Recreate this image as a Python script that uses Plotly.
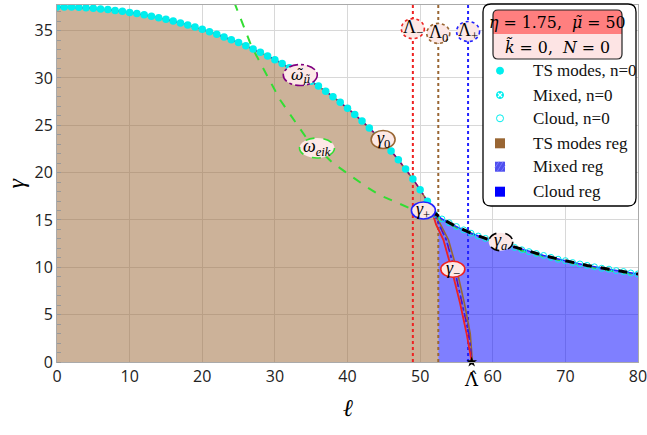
import numpy as np
import plotly.graph_objects as go

# ---------------------------------------------------------------- data
# TS-mode solutions (n = 0), one per integer ell
ell_ts = list(range(0, 52))
gamma_ts = [37.50, 37.49, 37.48, 37.45, 37.41, 37.36, 37.29, 37.22, 37.13, 37.03,
            36.92, 36.80, 36.66, 36.52, 36.36, 36.19, 36.00, 35.81, 35.59, 35.37,
            35.13, 34.88, 34.61, 34.33, 34.04, 33.73, 33.40, 33.06, 32.70, 32.32,
            31.93, 31.51, 31.08, 30.63, 30.15, 29.66, 29.14, 28.59, 28.02, 27.43,
            26.80, 26.14, 25.45, 24.72, 23.95, 23.14, 22.28, 21.36, 20.38, 19.33,
            18.20, 16.97]

# branch point gamma_+
ell_plus, gamma_plus = 51.6, 16.0

# cloud solutions (n = 0), one per integer ell
ell_cloud = list(range(52, 81))
gamma_cloud = [15.60, 15.10, 14.70, 14.30, 13.95, 13.60, 13.30, 13.05, 12.80, 12.60,
               12.35, 12.10, 11.85, 11.65, 11.45, 11.25, 11.05, 10.85, 10.70, 10.50,
               10.35, 10.20, 10.05, 9.90, 9.80, 9.65, 9.55, 9.40, 9.30]

# gamma_a branch
ell_a = [51.6, 53, 55, 57, 59, 61, 63, 65, 67, 70, 73, 76, 80]
gamma_a = [16.0, 15.1, 14.3, 13.6, 13.05, 12.6, 12.1, 11.65, 11.25, 10.7, 10.2, 9.8, 9.3]

# gamma_- branch and the neighbouring lower branches
gamma_low = [16.0, 14.5, 12.9, 9.9, 6.2, 3.0, 0.0]
ell_minus = [51.6, 52.2, 53.2, 54.3, 55.5, 56.4, 57.1]
ell_mid = [51.7, 52.6, 53.6, 54.7, 55.8, 56.7, 57.15]
ell_zero = [51.8, 52.8, 53.9, 55.0, 56.1, 56.9, 57.2]

# eikonal approximation
ell_eik = [24.4, 26.8, 30.7, 34.4, 38.0, 42.6, 44.5, 46.8, 49.0, 51.5,
           55, 60, 65, 70, 75, 80]
gamma_eik = [38.0, 33.3, 27.7, 23.6, 21.0, 18.5, 17.6, 16.8, 16.1, 15.6,
             14.2, 12.7, 11.55, 10.6, 9.8, 9.2]

# characteristic ell values
Lambda_minus, Lambda_0, Lambda_plus, Lambda_hat = 49.0, 52.5, 56.6, 57.1

x_ticks = [0, 10, 20, 30, 40, 50, 60, 70, 80]
y_ticks = [0, 5, 10, 15, 20, 25, 30, 35]
x_max, y_max = 80, 37.7

# ---------------------------------------------------------------- styles
BROWN = "#996633"
PURPLE = "#800080"
CYAN = "#00eeee"
RED = "#ee2222"
BLUE = "#2222ff"
GREEN = "#33dd33"
LABEL_FILL = "#fce8e6"
SERIF = "Liberation Serif"
SERIF_MARKS = "DejaVu Serif"

# plot area in pixels (for paper-coordinate helpers)
L, R, T, B = 57, 638, 5, 362


def pp(px, py):
    return (px - L) / (R - L), (B - py) / (B - T)


def rounded_path(x0, y0, x1, y1, r, top=True, bottom=True):
    """Rounded rectangle path in paper coordinates from pixel corners."""
    def P(px, py):
        a, b = pp(px, py)
        return f"{a:.5f},{b:.5f}"
    rt = r if top else 0
    rb = r if bottom else 0
    d = f"M {P(x0 + rt, y0)} L {P(x1 - rt, y0)} "
    d += f"Q {P(x1, y0)} {P(x1, y0 + rt)} " if rt else ""
    d += f"L {P(x1, y1 - rb)} "
    d += f"Q {P(x1, y1)} {P(x1 - rb, y1)} " if rb else ""
    d += f"L {P(x0 + rb, y1)} "
    d += f"Q {P(x0, y1)} {P(x0, y1 - rb)} " if rb else ""
    d += f"L {P(x0, y0 + rt)} "
    d += f"Q {P(x0, y0)} {P(x0 + rt, y0)} " if rt else ""
    return d + "Z"


fig = go.Figure()

# ---------------------------------------------------------------- regions
g_at_L0 = float(np.interp(Lambda_0, ell_a, gamma_a))
ts_x = [0] + ell_ts + [ell_plus] + [e for e in ell_a if ell_plus < e < Lambda_0] + [Lambda_0, Lambda_0, 0]
ts_y = [0] + gamma_ts + [gamma_plus] + [g for e, g in zip(ell_a, gamma_a) if ell_plus < e < Lambda_0] + [g_at_L0, 0, 0]
fig.add_trace(go.Scatter(x=ts_x, y=ts_y, fill="toself", mode="none",
                         fillcolor="rgba(153,102,51,0.5)", hoverinfo="skip"))

cl_x = [Lambda_0, Lambda_0] + [e for e in ell_a if e > Lambda_0] + [x_max]
cl_y = [0, g_at_L0] + [g for e, g in zip(ell_a, gamma_a) if e > Lambda_0] + [0]
fig.add_trace(go.Scatter(x=cl_x, y=cl_y, fill="toself", mode="none",
                         fillcolor="rgba(0,0,255,0.5)", hoverinfo="skip"))

mx_x = ell_minus + ell_zero[::-1]
mx_y = gamma_low + gamma_low[::-1]
fig.add_trace(go.Scatter(x=mx_x, y=mx_y, fill="toself", mode="none",
                         fillcolor="rgba(90,90,240,0.55)",
                         fillpattern=dict(shape="/", fgcolor="rgba(80,80,200,0.8)",
                                          bgcolor="rgba(120,120,245,0.6)",
                                          size=4, solidity=0.3),
                         hoverinfo="skip"))

# ---------------------------------------------------------------- lines
for lam, col in [(Lambda_minus, RED), (Lambda_0, BROWN), (Lambda_plus, BLUE)]:
    fig.add_trace(go.Scatter(x=[lam, lam], y=[0, y_max], mode="lines",
                             line=dict(color=col, width=2, dash="dot")))

fig.add_trace(go.Scatter(x=ell_eik, y=gamma_eik, mode="lines",
                         line=dict(color=GREEN, width=2, dash="dash")))

up_x = ell_ts + [ell_plus]
up_y = gamma_ts + [gamma_plus]
fig.add_trace(go.Scatter(x=up_x, y=up_y, mode="lines", line=dict(color=BROWN, width=1.5)))
fig.add_trace(go.Scatter(x=up_x, y=up_y, mode="lines",
                         line=dict(color=PURPLE, width=1.5, dash="dashdot")))

fig.add_trace(go.Scatter(x=ell_a, y=gamma_a, mode="lines", line=dict(color=BLUE, width=1.5)))

fig.add_trace(go.Scatter(x=ell_zero, y=gamma_low, mode="lines", line=dict(color=BROWN, width=1.6)))
fig.add_trace(go.Scatter(x=ell_mid, y=gamma_low, mode="lines",
                         line=dict(color=PURPLE, width=1.3, dash="dashdot")))
fig.add_trace(go.Scatter(x=ell_mid, y=gamma_low, mode="lines",
                         line=dict(color=BLUE, width=1.3, dash="dot")))
fig.add_trace(go.Scatter(x=ell_minus, y=gamma_low, mode="lines", line=dict(color=RED, width=1.8)))

# ---------------------------------------------------------------- points
fig.add_trace(go.Scatter(x=ell_ts, y=gamma_ts, mode="markers",
                         marker=dict(color=CYAN, size=7.5, line=dict(width=0))))
fig.add_trace(go.Scatter(x=ell_cloud, y=gamma_cloud, mode="markers",
                         marker=dict(color="rgba(0,0,0,0)", size=6,
                                     line=dict(color=CYAN, width=1))))
fig.add_trace(go.Scatter(x=ell_a, y=gamma_a, mode="lines",
                         line=dict(color="black", width=3, dash="dash")))
fig.add_trace(go.Scatter(x=[Lambda_hat], y=[0], mode="markers", cliponaxis=False,
                         marker=dict(symbol="star", color="black", size=8)))

# ---------------------------------------------------------------- curve labels
curve_labels = [
    (33.5, 30.3, "<i>ω̃</i><sub><i>μ̃</i></sub>", PURPLE, "dashdot", 34, 21, SERIF_MARKS, 15),
    (35.8, 22.6, "<i>ω</i><sub><i>eik</i></sub>", GREEN, "dash", 35, 20, SERIF, 18),
    (44.9, 23.5, "<i>γ</i><sub>0</sub>", BROWN, "solid", 24, 18, SERIF, 18),
    (50.45, 16.0, "<i>γ</i><sub>+</sub>", BLUE, "solid", 24, 17, SERIF, 18),
    (54.5, 9.8, "<i>γ</i><sub>−</sub>", RED, "solid", 24, 16, SERIF, 18),
    (61.1, 12.7, "<i>γ</i><sub><i>a</i></sub>", "black", "dash", 24, 18, SERIF, 18),
    (Lambda_minus, 35.2, "Λ<sub>−</sub>", RED, "dot", 23, 20, SERIF, 18),
    (Lambda_0, 34.7, "Λ<sub>0</sub>", BROWN, "dot", 23, 20, SERIF, 18),
    (Lambda_plus, 34.9, "Λ<sub>+</sub>", BLUE, "dot", 23, 20, SERIF, 18),
]
shapes = []
annotations = []
for lx, ly, txt, col, dsh, w, h, fam, fs in curve_labels:
    shapes.append(dict(type="circle", xref="x", yref="y",
                       xsizemode="pixel", ysizemode="pixel",
                       xanchor=lx, yanchor=ly,
                       x0=-w / 2, x1=w / 2, y0=-h / 2, y1=h / 2,
                       fillcolor=LABEL_FILL,
                       line=dict(color=col, width=1.6, dash=dsh)))
    annotations.append(dict(x=lx, y=ly, xref="x", yref="y", text=txt, showarrow=False,
                            xanchor="center", yanchor="middle",
                            font=dict(family=fam, size=fs, color="black")))

# ---------------------------------------------------------------- legend box
shapes.append(dict(type="path", xref="paper", yref="paper",
                   path=rounded_path(483, 4, 636, 206, 8),
                   fillcolor="white", line=dict(color="black", width=1.3)))
shapes.append(dict(type="path", xref="paper", yref="paper",
                   path=rounded_path(493, 10, 622, 59, 5),
                   fillcolor="#fde4e4", line=dict(width=0)))
shapes.append(dict(type="path", xref="paper", yref="paper",
                   path=rounded_path(493, 10, 622, 34, 5, bottom=False),
                   fillcolor="#ff7f7f", line=dict(width=0)))
shapes.append(dict(type="path", xref="paper", yref="paper",
                   path=rounded_path(493, 10, 622, 59, 5),
                   fillcolor="rgba(0,0,0,0)", line=dict(color="#222222", width=1.2)))
for py, txt, fam, fs in [(22, "<i>η</i> = 1.75,  <i>μ̃</i> = 50", SERIF_MARKS, 15.8),
                         (47, "<i>k̃</i> = 0,  <i>N</i> = 0", SERIF_MARKS, 15.8)]:
    x, y = pp(557.5, py)
    annotations.append(dict(x=x, y=y, xref="paper", yref="paper", text=txt, showarrow=False,
                            xanchor="center", yanchor="middle",
                            font=dict(family=fam, size=fs, color="black")))

legend_rows = [
    (70.7, "TS modes, n=0"),
    (95.0, "Mixed, n=0"),
    (118.3, "Cloud, n=0"),
    (143.3, "TS modes reg"),
    (166.7, "Mixed reg"),
    (191.7, "Cloud reg"),
]
mk_x = 500
for i, (py, txt) in enumerate(legend_rows):
    tx, ty = pp(531, py)
    annotations.append(dict(x=tx, y=ty, xref="paper", yref="paper", text=txt,
                            showarrow=False, xanchor="left", yanchor="middle",
                            font=dict(family=SERIF, size=17, color="#111111")))
    ax, ay = pp(mk_x, py)
    if i < 3:
        fill = CYAN if i < 2 else "white"
        shapes.append(dict(type="circle", xref="paper", yref="paper",
                           xsizemode="pixel", ysizemode="pixel", xanchor=ax, yanchor=ay,
                           x0=-3.5, x1=3.5, y0=-3.5, y1=3.5, fillcolor=fill,
                           line=dict(color=CYAN, width=1)))
        if i == 1:
            shapes.append(dict(type="path", xref="paper", yref="paper",
                               xsizemode="pixel", ysizemode="pixel", xanchor=ax, yanchor=ay,
                               path="M -2,-2 L 2,2 M -2,2 L 2,-2",
                               line=dict(color="white", width=1.2)))
    else:
        fill = ["#996633", "#4f4fee", "#0000ff"][i - 3]
        shapes.append(dict(type="rect", xref="paper", yref="paper",
                           xsizemode="pixel", ysizemode="pixel", xanchor=ax, yanchor=ay,
                           x0=-5, x1=5, y0=-5, y1=5, fillcolor=fill,
                           line=dict(width=0)))
        if i == 4:
            shapes.append(dict(type="path", xref="paper", yref="paper",
                               xsizemode="pixel", ysizemode="pixel", xanchor=ax, yanchor=ay,
                               path="M -5,-1 L -1,5 M -3,-5 L 3,5 M 1,-5 L 5,1",
                               line=dict(color="#7777ff", width=1)))

# ---------------------------------------------------------------- axis titles
annotations.append(dict(x=Lambda_hat, y=0, xref="x", yref="paper", text="Λ̂",
                        showarrow=False, xanchor="center", yanchor="middle", yshift=-17,
                        font=dict(family=SERIF_MARKS, size=18, color="black")))
annotations.append(dict(x=0.5, y=0, xref="paper", yref="paper", text="<i>ℓ</i>",
                        showarrow=False, xanchor="center", yanchor="middle", yshift=-46,
                        font=dict(family=SERIF, size=24, color="black")))
annotations.append(dict(x=0, y=0.5, xref="paper", yref="paper", text="<i>γ</i>",
                        showarrow=False, xanchor="center", yanchor="middle",
                        xshift=-42, textangle=-90,
                        font=dict(family=SERIF, size=24, color="black")))

fig.update_layout(
    width=647, height=435,
    margin=dict(l=L, r=647 - R, t=T, b=435 - B),
    paper_bgcolor="white", plot_bgcolor="white",
    showlegend=False,
    shapes=shapes, annotations=annotations,
    xaxis=dict(range=[0, x_max], tickvals=x_ticks, showgrid=True, gridcolor="#d8d8d8",
               zeroline=False, showline=True, linecolor="#aaaaaa", mirror=True,
               ticks="", ticklabeloverflow="allow", automargin=False,
               tickfont=dict(family="Open Sans", size=16, color="#222222")),
    yaxis=dict(range=[0, y_max], tickvals=y_ticks, showgrid=True, gridcolor="#d8d8d8",
               zeroline=False, showline=True, linecolor="#aaaaaa", mirror=True,
               ticks="", ticklabeloverflow="allow", automargin=False,
               tickfont=dict(family="Open Sans", size=16, color="#222222"),
               minor=dict(dtick=1, tick0=0, ticks="inside", ticklen=4,
                          tickcolor="#999999", showgrid=False)),
)

fig.write_html("out.html")
